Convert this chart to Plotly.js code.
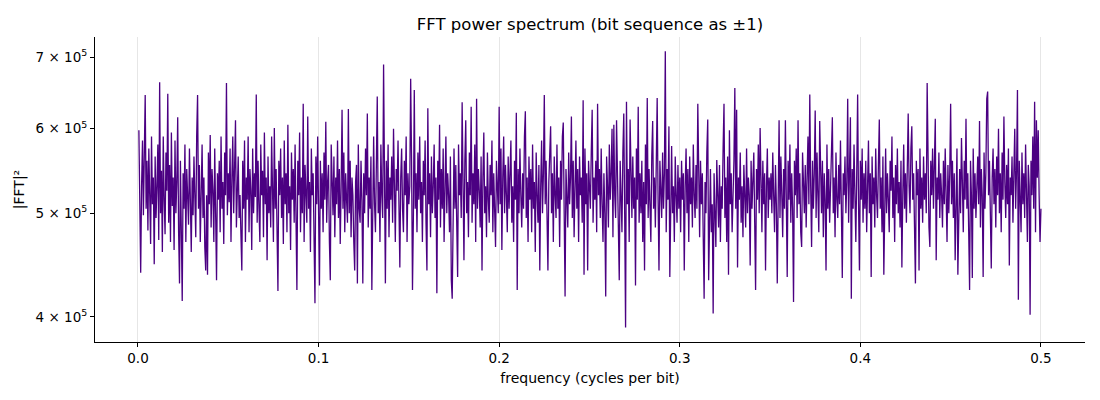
<!DOCTYPE html>
<html>
<head>
<meta charset="utf-8">
<script src="https://cdn.plot.ly/plotly-3.0.1.min.js"></script>
<style>html,body{margin:0;padding:0;background:#fff;}#chart{width:1100px;height:400px;}</style>
</head>
<body>
<div id="chart"></div>
<script>
// |FFT|^2 values, in thousands (1000 bins, 0.0005 cycles/bit apart)
const seg0 = [598,475,440,530,585,498,552,645,505,560, 482,575,520,468,590,510,540,448,565,495, 530,580,472,663,500,548,460,590,515,478, 570,525,647,490,555,470,595,508,540,462, 585,500,535,615,480,430,560,495,414,545, 505,580,470,550,520,488,575,510,460,540, 498,565,525,475,590,645,505,555,470,530, 580,495,540,465,442,520,438,570,510,592, 485,550,525,470,575,500,433,545,515,560, 480,590,505,535,468,570,520,662,498,545];
const seg1 = [512,575,470,540,590,500,555,611,485,530, 565,495,520,478,442,560,505,585,470,540, 515,590,480,550,525,462,575,500,545,518, 646,490,560,505,470,580,520,548,475,595, 510,540,452,565,500,530,485,590,515,470, 601,505,550,480,423,560,520,575,495,540, 468,585,510,545,480,605,500,530,462,570, 515,550,490,580,505,424,560,520,595,480, 540,500,633,470,555,515,490,616,505,535, 460,575,520,545,480,412,565,510,590,495];
const seg2 = [428,560,505,545,480,570,515,609,490,535, 555,470,433,580,520,498,565,475,540,510, 585,495,550,468,530,625,505,570,480,545, 515,490,626,500,560,475,540,520,470,442, 535,555,430,580,505,490,560,515,430,545, 500,575,520,620,485,540,505,565,424,530, 590,510,480,555,643,500,535,470,580,520, 495,689,545,430,560,505,580,475,540,515, 565,490,600,510,470,550,525,585,495,445, 540,575,505,480,560,520,590,470,545,510];
const seg3 = [530,668,560,424,495,652,505,545,480,570, 515,590,500,535,470,560,520,585,490,442, 627,510,545,475,565,500,530,580,495,540, 421,560,515,605,485,550,505,575,470,530, 590,500,545,520,480,565,433,416,540,575, 505,555,490,436,580,520,545,495,635,510, 452,560,611,500,535,475,570,520,629,490, 545,510,580,470,640,505,550,525,485,565, 442,540,595,500,530,475,570,515,490,555, 520,585,480,545,505,465,560,530,500,629];
const seg4 = [510,575,462,540,590,500,555,520,480,565, 505,545,585,490,530,470,560,515,621,424, 550,500,575,520,485,545,505,590,623,495, 540,470,565,515,550,480,580,505,535,460, 570,520,490,555,442,530,585,500,545,645, 510,560,480,442,535,575,603,500,545,470, 565,520,495,580,505,540,465,560,515,590, 608,500,418,550,525,485,570,510,540,616, 495,560,475,530,585,505,550,470,565,520, 540,490,638,438,575,510,545,442,560,530];
const seg5 = [505,570,625,490,540,515,560,480,633,520, 550,495,575,510,470,545,500,418,565,530, 485,580,515,545,600,475,605,520,495,611, 540,505,433,560,525,480,570,620,500,391, 636,510,550,470,612,520,495,565,505,540, 428,575,515,629,490,545,500,560,470,535, 442,580,510,641,495,550,520,470,565,610, 505,540,485,575,641,515,442,560,530,495, 570,505,545,709,480,550,515,603,436,540, 578,500,530,470,565,520,490,555,505,540];
const seg6 = [480,560,515,545,442,530,575,500,550,470, 565,510,540,485,580,520,495,555,505,633, 530,475,560,510,545,490,416,535,500,570, 612,433,525,550,480,510,403,545,500,465, 561,520,485,555,470,530,505,575,633,495, 540,470,565,438,598,510,545,480,520,560, 655,505,625,445,540,515,570,490,530,475, 555,510,485,575,500,540,520,447,560,505, 535,570,490,424,550,515,580,500,601,525, 480,560,510,545,442,530,575,495,540,515];
const seg7 = [545,500,570,520,480,555,510,430,540,611, 495,565,520,475,550,505,611,530,436,560, 515,580,490,545,505,413,560,520,575,495, 611,510,545,480,465,570,525,500,555,485, 540,590,510,646,530,465,560,505,545,624, 495,570,520,480,610,535,500,560,475,545, 515,442,580,505,550,490,530,565,615,500, 540,475,570,515,495,555,510,585,480,435, 545,520,565,500,535,640,490,560,615,416, 550,505,580,520,470,545,646,510,442,560];
const seg8 = [515,575,490,545,505,560,480,530,585,500, 545,436,565,510,540,485,575,520,495,555, 612,505,540,480,565,438,530,575,500,545, 515,480,560,525,590,495,540,470,555,510, 575,500,535,485,560,445,520,580,505,545, 490,565,620,530,500,575,603,515,545,485, 430,560,520,550,442,575,505,540,490,565, 515,545,500,662,530,485,465,560,520,575, 505,550,613,452,540,515,570,495,545,520, 485,560,510,575,535,470,555,500,545,633];
const seg9 = [510,560,495,545,452,530,575,438,520,550, 500,588,535,480,560,515,613,505,545,490, 424,560,520,435,575,505,545,495,530,565, 510,610,485,550,520,436,570,505,545,640, 650,520,560,495,444,540,575,510,550,485, 565,520,600,500,545,480,570,515,616,535, 495,555,510,575,447,540,520,565,490,545, 600,505,550,652,415,560,525,480,570,510, 545,495,580,515,470,555,530,402,560,520, 590,505,636,480,611,540,598,520,470,505];

const freqStart = 0.0005;   // first frequency bin (cycles per bit)
const freqStep = 0.0005;    // bin spacing
const xTickVals = [0.0, 0.1, 0.2, 0.3, 0.4, 0.5];
const xTickText = ['0.0', '0.1', '0.2', '0.3', '0.4', '0.5'];
const yTickVals = [4e5, 5e5, 6e5, 7e5];
const yTickText = ['4 × 10<sup>5</sup>', '5 × 10<sup>5</sup>', '6 × 10<sup>5</sup>', '7 × 10<sup>5</sup>'];

const powerK = [].concat(seg0, seg1, seg2, seg3, seg4, seg5, seg6, seg7, seg8, seg9);
const power = powerK.map(v => v * 1000);

const font = 'DejaVu Sans, Liberation Sans, sans-serif';

Plotly.newPlot('chart', [{
  type: 'scatter',
  mode: 'lines',
  x0: freqStart,
  dx: freqStep,
  y: power,
  line: {color: '#4B0082', width: 1.3},
  hoverinfo: 'x+y'
}], {
  width: 1100, height: 400,
  margin: {l: 95, r: 15, t: 37, b: 58},
  paper_bgcolor: '#fff', plot_bgcolor: '#fff',
  font: {family: font, size: 13, color: '#000'},
  showlegend: false,
  title: {text: 'FFT power spectrum (bit sequence as ±1)', font: {family: font, size: 16.5, color: '#000'}, x: 0.5, xref: 'paper', xanchor: 'center', y: 0.94, yanchor: 'middle', yref: 'container'},
  xaxis: {
    range: [-0.0238, 0.5244],
    tickvals: xTickVals, ticktext: xTickText,
    showgrid: true, gridcolor: '#e6e6e6', gridwidth: 1,
    zeroline: false,
    showline: true, linecolor: '#000', linewidth: 1,
    ticks: 'outside', ticklen: 4, tickcolor: '#000', tickwidth: 1,
    tickfont: {family: font, size: 13.5, color: '#000'},
    title: {text: 'frequency (cycles per bit)', font: {family: font, size: 14, color: '#000'}, standoff: 7},
    mirror: false
  },
  yaxis: {
    type: 'log',
    range: [Math.log10(379000), Math.log10(731000)],
    tickvals: yTickVals, ticktext: yTickText,
    showgrid: false, zeroline: false,
    showline: true, linecolor: '#000', linewidth: 1,
    ticks: 'outside', ticklen: 4, tickcolor: '#000', tickwidth: 1,
    tickfont: {family: font, size: 13.5, color: '#000'},
    title: {text: '|FFT|²', font: {family: font, size: 14, color: '#000'}, standoff: 7},
    mirror: false
  }
}, {displayModeBar: false, staticPlot: true});
</script>
</body>
</html>
